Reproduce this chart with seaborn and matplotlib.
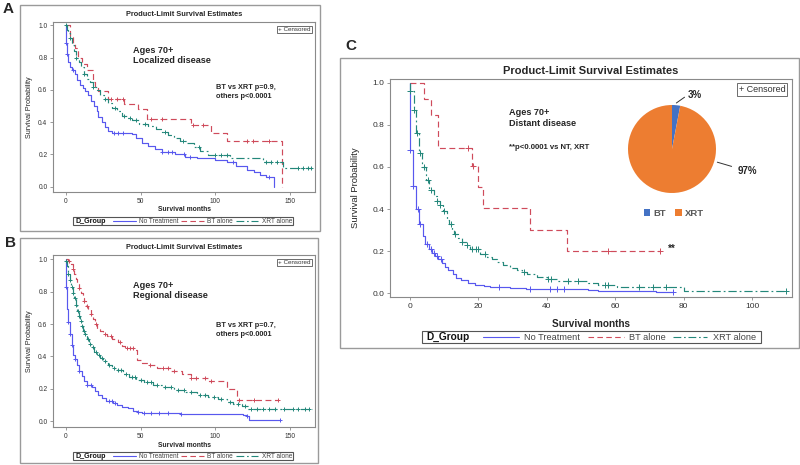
import numpy as np
import matplotlib
matplotlib.use("Agg")
import matplotlib.pyplot as plt
from matplotlib.patches import Rectangle
from matplotlib.lines import Line2D
from matplotlib.ticker import FormatStrFormatter
import seaborn as sns

# -------------------------------
# Data
# -------------------------------
groups = ["No Treatment", "BT alone", "XRT alone"]

# Panel A - localized disease
a_nt_t = [0, 0.2, 0.6, 1.6, 2.7, 4.2, 6.0, 7.6, 9.4, 11.2, 13, 15, 17, 19, 20.5, 21.7, 24, 26, 28.3, 31,
          44, 47, 50.7, 55, 59.6, 64, 73, 80, 88, 100, 108, 114, 121, 126, 130, 134, 139.3]
a_nt_s = [1.0, 0.89, 0.82, 0.77, 0.74, 0.72, 0.70, 0.66, 0.63, 0.61, 0.59, 0.57, 0.53, 0.50, 0.47, 0.43, 0.40, 0.37, 0.345, 0.33,
          0.325, 0.30, 0.27, 0.25, 0.235, 0.215, 0.20, 0.185, 0.175, 0.165, 0.155, 0.125, 0.105, 0.09, 0.075, 0.06, 0.0]
a_nt_cens = [0.2, 1, 5, 32, 35, 38, 64, 68, 71, 79, 83, 112, 136]

a_bt_t = [0, 2.7, 4.5, 6.0, 8.3, 10.5, 14.3, 17.9, 19.4, 21.7, 27.9, 39.0, 48.4, 54.0, 84.0, 97.0, 108.0, 144.4]
a_bt_s = [1.0, 0.93, 0.89, 0.86, 0.80, 0.76, 0.72, 0.65, 0.62, 0.59, 0.54, 0.51, 0.48, 0.42, 0.38, 0.33, 0.28, 0.0]
a_bt_cens = [30, 34, 38, 57, 64, 85, 92, 121, 125, 136]

a_xrt_t = [0, 0.5, 1.6, 2.7, 4, 5.5, 7, 8.5, 10, 12, 14, 16, 18, 20.5, 23, 25.5, 28, 31, 34, 37.5,
           41, 44, 49, 55, 60, 64, 68, 72, 76, 81, 86, 90, 95, 110, 132, 145.5, 165]
a_xrt_s = [1.0, 0.97, 0.95, 0.92, 0.88, 0.84, 0.80, 0.77, 0.74, 0.70, 0.67, 0.65, 0.62, 0.60, 0.57, 0.54, 0.52, 0.49, 0.47, 0.44,
           0.425, 0.41, 0.39, 0.375, 0.36, 0.34, 0.32, 0.30, 0.285, 0.27, 0.245, 0.22, 0.195, 0.18, 0.155, 0.117, 0.117]
a_xrt_cens = [0.2, 3, 7, 12, 18, 26, 33, 39, 43, 47, 53, 66, 78, 89, 100, 104, 108, 134, 137, 141, 155, 159, 162, 164]

# Panel B - regional disease
b_nt_t = [0, 0.2, 0.6, 1.6, 2.7, 3.8, 4.9, 6.0, 7.1, 8.7, 10.5, 12, 13.8, 17.2, 19.4, 21.7, 24, 26.8, 31.7, 34,
          37.3, 41.7, 45, 47.8, 50.7, 76.3, 118.8, 121, 122.5, 143]
b_nt_s = [1.0, 0.83, 0.69, 0.61, 0.54, 0.47, 0.41, 0.385, 0.35, 0.31, 0.28, 0.25, 0.225, 0.21, 0.19, 0.165, 0.145, 0.125, 0.115, 0.10,
          0.09, 0.08, 0.065, 0.055, 0.05, 0.045, 0.04, 0.03, 0.01, 0.01]
b_nt_cens = [0.2, 1.6, 2.7, 4, 6, 9, 14, 17, 29, 31, 33, 48, 52, 57, 62, 68, 77, 121, 143]

b_bt_t = [0, 1.6, 3.1, 4.5, 5.4, 6.7, 7.6, 8.9, 10, 11.2, 12, 13.4, 15, 16.5, 17.9, 19.4, 21, 22.8, 25, 27.2,
          30.6, 35, 37.3, 39.5, 46.2, 47.8, 50.7, 55, 61, 70, 77.5, 84, 95, 107.6, 114.3, 142]
b_bt_s = [1.0, 0.99, 0.97, 0.94, 0.91, 0.88, 0.85, 0.82, 0.79, 0.76, 0.74, 0.71, 0.69, 0.66, 0.63, 0.60, 0.57, 0.555, 0.54, 0.525,
          0.51, 0.49, 0.465, 0.45, 0.44, 0.38, 0.36, 0.345, 0.33, 0.31, 0.29, 0.27, 0.25, 0.20, 0.13, 0.13]
b_bt_cens = [2, 5, 9, 12, 14, 17, 20, 26, 30, 36, 41, 43, 45, 56, 65, 68, 72, 84, 87, 93, 97, 116, 126, 142]

b_xrt_t = [0, 0.5, 1.5, 2.5, 3.5, 4.5, 5.5, 6.5, 7.5, 8.5, 9.5, 10.5, 11.5, 12.5, 14, 15.5, 17, 19, 21, 23,
           25, 28, 31, 34, 38, 42, 47, 52, 58, 65, 72, 80, 88, 95, 102, 108, 112, 118, 122, 165]
b_xrt_s = [0.99, 0.96, 0.91, 0.87, 0.83, 0.79, 0.76, 0.72, 0.68, 0.65, 0.62, 0.59, 0.56, 0.54, 0.51, 0.48, 0.46, 0.43, 0.41, 0.39,
           0.37, 0.35, 0.33, 0.315, 0.295, 0.275, 0.255, 0.24, 0.225, 0.21, 0.195, 0.18, 0.165, 0.15, 0.135, 0.12, 0.105, 0.095, 0.075, 0.075]
b_xrt_cens = [0.2, 1.5, 3, 4, 5, 6, 7, 8, 9, 10, 11, 12, 13, 14.5, 16, 18, 20, 22, 24, 26, 29, 32, 35, 37, 40, 44, 46,
              50, 54, 57, 61, 66, 70, 75, 79, 84, 90, 93, 99, 104, 110, 115, 120, 124, 128, 132, 136, 140, 146, 152, 155, 160, 163]

# Panel C - distant disease
c_nt_t = [0, 0.1, 0.8, 1.8, 2.6, 3.7, 4.5, 5.5, 6.5, 7.3, 8.1, 9.3, 10.2, 11.2, 12.7, 13.5, 15, 17, 19, 21.5,
          23.4, 29.3, 34, 52, 55, 72, 77]
c_nt_s = [1.0, 0.68, 0.51, 0.40, 0.33, 0.27, 0.235, 0.21, 0.19, 0.175, 0.16, 0.145, 0.125, 0.108, 0.09, 0.07, 0.06, 0.05, 0.04, 0.032,
          0.028, 0.023, 0.02, 0.015, 0.01, 0.005, 0.005]
c_nt_cens = [0.1, 0.8, 2.2, 3.0, 5.0, 6.0, 7.0, 8.0, 9.0, 26, 35, 41, 43, 45, 77]

c_bt_t = [0, 4.0, 6.0, 8.1, 18.2, 20.0, 21.2, 35.1, 46.0, 73.0]
c_bt_s = [1.0, 0.923, 0.846, 0.692, 0.605, 0.504, 0.403, 0.302, 0.202, 0.202]
c_bt_cens = [17.1, 18.4, 58, 73]

c_xrt_t = [0, 0.1, 1.2, 1.8, 2.6, 3.6, 4.7, 5.6, 7.0, 7.8, 8.8, 9.6, 10.7, 11.5, 12.2, 13.0, 14.1, 15.1, 16.6, 17.6,
           20.5, 22.4, 23.9, 25.4, 27.3, 29.3, 31.2, 32.7, 34.1, 37, 40, 43, 46, 52, 55, 60.5, 80, 110]
c_xrt_s = [1.0, 0.96, 0.87, 0.76, 0.665, 0.60, 0.54, 0.49, 0.46, 0.44, 0.42, 0.39, 0.35, 0.33, 0.30, 0.28, 0.26, 0.245, 0.23, 0.21,
           0.185, 0.17, 0.16, 0.15, 0.135, 0.12, 0.11, 0.10, 0.09, 0.075, 0.065, 0.058, 0.055, 0.05, 0.04, 0.03, 0.01, 0.01]
c_xrt_cens = [0.1, 1.2, 2.0, 3.0, 4.0, 5.2, 6.0, 7.8, 8.9, 9.9, 12.0, 13.2, 15.1, 16.6, 18.2, 19.2, 19.8, 22.0,
              33.2, 40.3, 41.2, 46.2, 49.1, 57.0, 57.8, 67, 71, 75, 110]

# Pie inset (treatment share, distant disease)
pie_labels = ["BT", "XRT"]
pie_share = [3, 97]

# -------------------------------
# Style
# -------------------------------
sns.set_theme(style="white")
plt.rcParams["font.family"] = ["Liberation Sans", "DejaVu Sans"]

W, H = 800, 465
colors = {"No Treatment": "#5858ee", "BT alone": "#cf4b5b", "XRT alone": "#23877a"}
styles = {"No Treatment": "-", "BT alone": (0, (5, 3)), "XRT alone": (0, (7, 2.5, 1.5, 2.5))}
frame_col = "#8a8a8a"


def fx(px):
    return px / W


def fy(py):
    return 1 - py / H


fig = plt.figure(figsize=(8, 4.65), dpi=100)


def km_panel(box, curves, xlim, ylim, xticks, fs, msize):
    left, top, right, bottom = box
    ax = fig.add_axes([fx(left), fy(bottom), (right - left) / W, (bottom - top) / H])
    for name, (t, s, cens) in zip(groups, curves):
        sns.lineplot(x=t, y=s, ax=ax, estimator=None, sort=False, drawstyle="steps-post",
                     color=colors[name], linestyle=styles[name], linewidth=0.85, legend=False)
        idx = np.searchsorted(np.asarray(t), cens, side="right") - 1
        sns.scatterplot(x=cens, y=np.asarray(s)[idx], ax=ax, marker="+", color=colors[name],
                        s=msize, linewidth=0.7, zorder=3, legend=False)
    ax.set_xlim(*xlim)
    ax.set_ylim(*ylim)
    ax.set_xticks(xticks)
    ax.set_yticks(np.arange(0, 1.01, 0.2))
    ax.yaxis.set_major_formatter(FormatStrFormatter("%.1f"))
    ax.tick_params(bottom=True, left=True, direction="out", length=2.5, width=0.6,
                   color=frame_col, labelsize=fs, labelcolor="#333333", pad=1.5)
    for sp in ax.spines.values():
        sp.set_color(frame_col)
        sp.set_linewidth(0.8)
    return ax


def group_legend(x0, x1, y0, y1, fs):
    w = x1 - x0
    yc = (y0 + y1) / 2
    fig.add_artist(Rectangle((fx(x0), fy(y1)), w / W, (y1 - y0) / H, transform=fig.transFigure,
                             fill=False, ec="#555555", lw=0.8))
    fig.text(fx(x0 + 0.012 * w), fy(yc), "D_Group", fontsize=fs * 1.1, fontweight="bold",
             va="center", color="#111111")
    for name, a, b, c in zip(groups, [0.18, 0.49, 0.74], [0.285, 0.595, 0.84], [0.30, 0.61, 0.858]):
        fig.add_artist(Line2D([fx(x0 + a * w), fx(x0 + b * w)], [fy(yc)] * 2, transform=fig.transFigure,
                              color=colors[name], ls=styles[name], lw=0.8))
        fig.text(fx(x0 + c * w), fy(yc), name, fontsize=fs, va="center", color="#444444")


def panel_box(x0, y0, x1, y1):
    fig.add_artist(Rectangle((fx(x0), fy(y1)), (x1 - x0) / W, (y1 - y0) / H, transform=fig.transFigure,
                             fill=False, ec="#9a9a9a", lw=1.0))


def censored_key(ax, fs):
    ax.text(0.984, 0.972, "+ Censored", transform=ax.transAxes, ha="right", va="top", fontsize=fs,
            color="#333333", bbox=dict(boxstyle="square,pad=0.2", fc="white", ec="#555555", lw=0.6))


# -------------------------------
# Panel A
# -------------------------------
panel_box(20, 5, 320, 231)
fig.text(fx(3), fy(9), "A", fontsize=11, fontweight="bold", va="center")
axA = km_panel((53, 22, 315, 192),
               [(a_nt_t, a_nt_s, a_nt_cens), (a_bt_t, a_bt_s, a_bt_cens), (a_xrt_t, a_xrt_s, a_xrt_cens)],
               (-8.7, 166.7), (-0.033, 1.02), [0, 50, 100, 150], 4.8, 8)
axA.set_title("Product-Limit Survival Estimates", fontsize=5.3, fontweight="bold", pad=4)
axA.set_xlabel("Survival months", fontsize=4.9, fontweight="bold")
axA.set_ylabel("Survival Probability", fontsize=5.2)
axA.xaxis.set_label_coords(0.5, -0.085)
axA.yaxis.set_label_coords(-0.076, 0.5)
censored_key(axA, 4.5)
axA.text(0.305, 0.86, "Ages 70+\nLocalized disease", transform=axA.transAxes, va="top",
         fontsize=6.6, fontweight="bold", linespacing=1.15)
axA.text(0.622, 0.635, "BT vs XRT p=0.9,\nothers p<0.0001", transform=axA.transAxes, va="top",
         fontsize=5.3, fontweight="bold", linespacing=1.35)
group_legend(73, 293, 217, 225, 4.7)

# -------------------------------
# Panel B
# -------------------------------
panel_box(20, 238, 318, 463)
fig.text(fx(5), fy(243), "B", fontsize=11, fontweight="bold", va="center")
axB = km_panel((53, 255, 315, 427),
               [(b_nt_t, b_nt_s, b_nt_cens), (b_bt_t, b_bt_s, b_bt_cens), (b_xrt_t, b_xrt_s, b_xrt_cens)],
               (-8.7, 166.7), (-0.035, 1.026), [0, 50, 100, 150], 4.8, 8)
axB.set_title("Product-Limit Survival Estimates", fontsize=5.3, fontweight="bold", pad=4)
axB.set_xlabel("Survival months", fontsize=4.9, fontweight="bold")
axB.set_ylabel("Survival Probability", fontsize=5.2)
axB.xaxis.set_label_coords(0.5, -0.085)
axB.yaxis.set_label_coords(-0.076, 0.5)
censored_key(axB, 4.5)
axB.text(0.305, 0.847, "Ages 70+\nRegional disease", transform=axB.transAxes, va="top",
         fontsize=6.6, fontweight="bold", linespacing=1.15)
axB.text(0.622, 0.61, "BT vs XRT p=0.7,\nothers p<0.0001", transform=axB.transAxes, va="top",
         fontsize=5.3, fontweight="bold", linespacing=1.35)
group_legend(73, 293, 452, 460, 4.7)

# -------------------------------
# Panel C
# -------------------------------
panel_box(340, 58, 799, 348)
fig.text(fx(345), fy(46), "C", fontsize=11, fontweight="bold", va="center")
axC = km_panel((390, 79, 792, 297),
               [(c_nt_t, c_nt_s, c_nt_cens), (c_bt_t, c_bt_s, c_bt_cens), (c_xrt_t, c_xrt_s, c_xrt_cens)],
               (-5.85, 111.7), (-0.019, 1.019), [0, 20, 40, 60, 80, 100], 6.0, 16)
axC.set_title("Product-Limit Survival Estimates", fontsize=8, fontweight="bold", pad=3.5)
axC.set_xlabel("Survival months", fontsize=7.2, fontweight="bold")
axC.set_ylabel("Survival Probability", fontsize=6.8)
axC.xaxis.set_label_coords(0.5, -0.1)
axC.yaxis.set_label_coords(-0.075, 0.5)
censored_key(axC, 6.5)
axC.text(0.296, 0.865, "Ages 70+\nDistant disease", transform=axC.transAxes, va="top",
         fontsize=6.6, fontweight="bold", linespacing=1.2)
axC.text(0.296, 0.688, "**p<0.0001 vs NT, XRT", transform=axC.transAxes, va="center",
         fontsize=5.6, fontweight="bold")
axC.text(c_bt_t[-1] + 2.5, c_bt_s[-1] + 0.008, "**", fontsize=7, fontweight="bold", va="center")
group_legend(422, 761, 331, 343, 6.6)

# pie inset
axP = fig.add_axes([fx(628), fy(193), 88 / W, 88 / H])
wedges, _ = axP.pie(pie_share, colors=["#4472C4", "#ED7D31"], startangle=90, counterclock=False,
                    wedgeprops=dict(linewidth=0))
axP.set_xlim(-1, 1)
axP.set_ylim(-1, 1)
mid = np.deg2rad((wedges[0].theta1 + wedges[0].theta2) / 2)
axP.annotate(f"{pie_share[0]}%", xy=(1.05 * np.cos(mid), 1.05 * np.sin(mid)), xytext=(0.36, 1.23),
             va="center", fontsize=7.0, fontweight="bold", annotation_clip=False,
             arrowprops=dict(arrowstyle="-", color="#333333", lw=0.7, shrinkA=0, shrinkB=0,
                             relpos=(0, 0.5)))
axP.annotate(f"{pie_share[1]}%", xy=(1.03, -0.3), xytext=(1.49, -0.5),
             va="center", fontsize=7.0, fontweight="bold", annotation_clip=False,
             arrowprops=dict(arrowstyle="-", color="#333333", lw=0.7, shrinkA=2, shrinkB=0))
leg = axP.legend(wedges, pie_labels, ncol=2, frameon=False, loc="center", bbox_to_anchor=(0.52, -0.23),
                 handlelength=0.7, handleheight=0.7, handletextpad=0.3, columnspacing=1.0,
                 prop=dict(size=6.8, weight="bold"))
for txt in leg.get_texts():
    txt.set_color("#595959")

fig.savefig("out.png", dpi=100, facecolor="white")
